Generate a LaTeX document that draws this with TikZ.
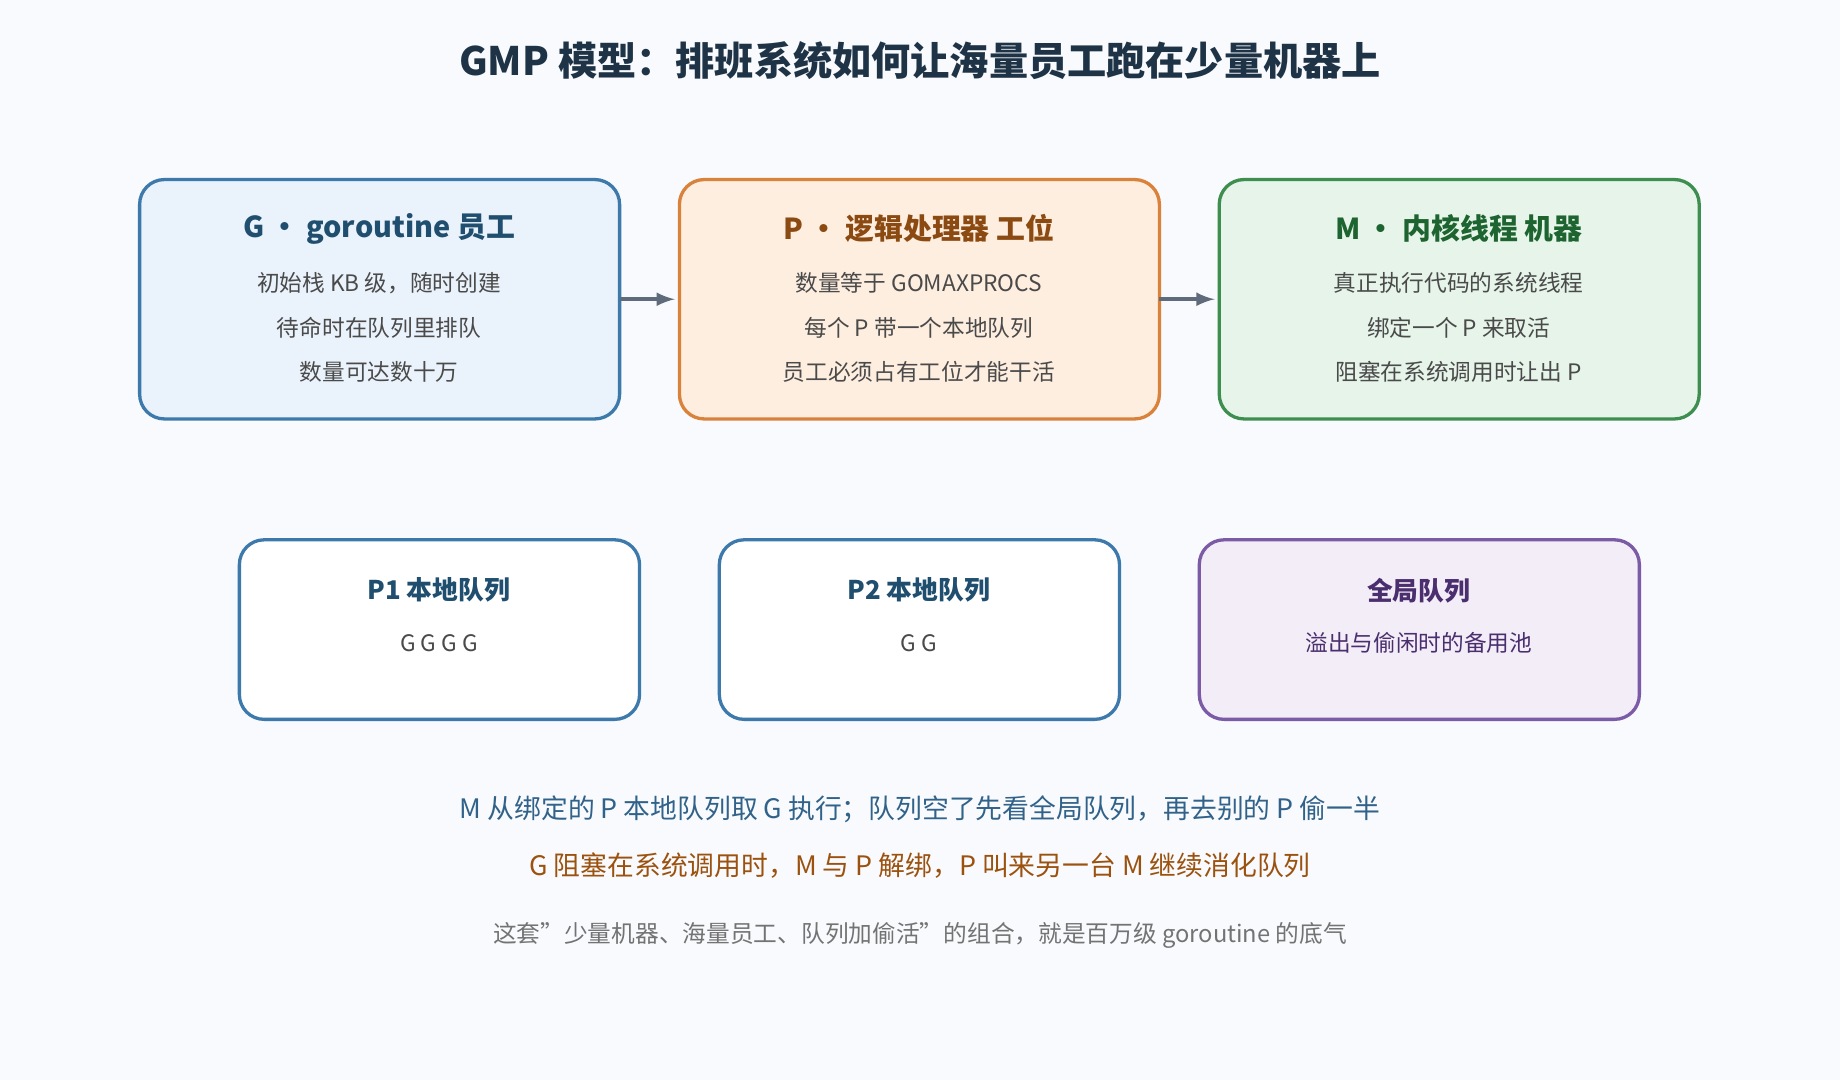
\documentclass[tikz,border=0pt]{standalone}
\usepackage{fontspec}
\setmainfont{Noto Sans CJK SC}
\usetikzlibrary{positioning}
\definecolor{bgc}{HTML}{F8FAFD}
\definecolor{gfill}{HTML}{EAF2FB}\definecolor{gdraw}{HTML}{3D7AAB}\definecolor{ghead}{HTML}{1F4E6E}
\definecolor{pfill}{HTML}{FEEEE0}\definecolor{pdraw}{HTML}{D9823B}\definecolor{phead}{HTML}{8B4A12}
\definecolor{mfill}{HTML}{E6F4EA}\definecolor{mdraw}{HTML}{3E8E50}\definecolor{mhead}{HTML}{1E6430}
\definecolor{qfill}{HTML}{F2EDF7}\definecolor{qdraw}{HTML}{7B5AA6}\definecolor{qhead}{HTML}{4A2E6E}
\definecolor{bodyc}{HTML}{4A4A4A}\definecolor{titlec}{HTML}{1F3347}
\definecolor{arrc}{HTML}{5F6B7A}
\tikzstyle{box} = [draw,line width=1.6pt,rounded corners=12pt]
\tikzstyle{head} = [font=\fontsize{14}{16}\selectfont\bfseries]
\tikzstyle{body} = [font=\fontsize{11}{13}\selectfont,text=bodyc]
\begin{document}
\begin{tikzpicture}[x=0.02cm,y=-0.02cm]
\fill[bgc] (0,0) rectangle (1568,920);
\node[font=\fontsize{19}{22}\selectfont\bfseries,text=titlec] (title) at (784,52) {GMP 模型：排班系统如何让海量员工跑在少量机器上};
% top row
\draw[box,fill=gfill,draw=gdraw] (119,153) rectangle (528,357);
\draw[box,fill=pfill,draw=pdraw] (579,153) rectangle (988,357);
\draw[box,fill=mfill,draw=mdraw] (1039,153) rectangle (1448,357);
\node[head,text=ghead] (ghd) at (323,195) {G • goroutine 员工};
\node[body] (g1) at (323,241) {初始栈 KB 级，随时创建};
\node[body] (g2) at (323,279) {待命时在队列里排队};
\node[body] (g3) at (323,317) {数量可达数十万};
\node[head,text=phead] (phd) at (783,195) {P • 逻辑处理器 工位};
\node[body] (p1) at (783,241) {数量等于 GOMAXPROCS};
\node[body] (p2) at (783,279) {每个 P 带一个本地队列};
\node[body] (p3) at (783,317) {员工必须占有工位才能干活};
\node[head,text=mhead] (mhd) at (1243,195) {M • 内核线程 机器};
\node[body] (m1) at (1243,241) {真正执行代码的系统线程};
\node[body] (m2) at (1243,279) {绑定一个 P 来取活};
\node[body] (m3) at (1243,317) {阻塞在系统调用时让出 P};
\coordinate (ga) at (528,255); \coordinate (pa) at (575,255);
\coordinate (pb) at (988,255); \coordinate (ma) at (1035,255);
\draw[->,>=latex,line width=2pt,arrc] (ga) -- (pa);
\draw[->,>=latex,line width=2pt,arrc] (pb) -- (ma);
% queues
\draw[box,fill=white,draw=gdraw] (204,460) rectangle (545,613);
\draw[box,fill=white,draw=gdraw] (613,460) rectangle (954,613);
\draw[box,fill=qfill,draw=qdraw] (1022,460) rectangle (1397,613);
\node[head,font=\fontsize{12.5}{14}\selectfont\bfseries,text=ghead] (q1) at (374,503) {P1 本地队列};
\node[body] (q1g) at (374,548) {G G G G};
\node[head,font=\fontsize{12.5}{14}\selectfont\bfseries,text=ghead] (q2) at (783,503) {P2 本地队列};
\node[body] (q2g) at (783,548) {G G};
\node[head,font=\fontsize{12.5}{14}\selectfont\bfseries,text=qhead] (gq) at (1209,503) {全局队列};
\node[body,text=qhead] (gqt) at (1209,548) {溢出与偷闲时的备用池};
% notes
\node[font=\fontsize{13}{15}\selectfont,text=gdraw!80!black] (n1) at (784,690) {M 从绑定的 P 本地队列取 G 执行；队列空了先看全局队列，再去别的 P 偷一半};
\node[font=\fontsize{13}{15}\selectfont,text=phead!85!orange] (n2) at (784,738) {G 阻塞在系统调用时，M 与 P 解绑，P 叫来另一台 M 继续消化队列};
\node[font=\fontsize{11.5}{14}\selectfont,text=gray!90!black] (n3) at (784,797) {这套"少量机器、海量员工、队列加偷活"的组合，就是百万级 goroutine 的底气};
\end{tikzpicture}
\end{document}
